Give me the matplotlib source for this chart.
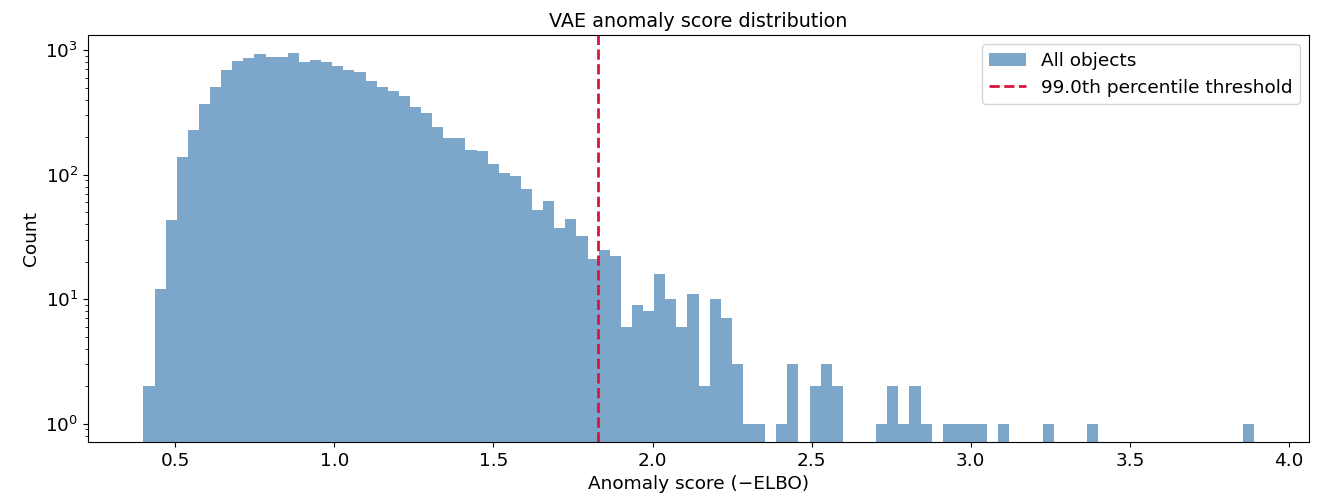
import numpy as np
import matplotlib
matplotlib.use("Agg")
import matplotlib.pyplot as plt

# histogram of VAE anomaly scores (-ELBO), 100 equal-width bins
score_min = 0.400
score_max = 3.889
threshold = 1.827  # 99.0th percentile

counts = [
    2, 12, 43, 138, 229, 372, 510, 687, 811, 864,
    924, 880, 880, 941, 802, 837, 802, 745, 692, 666,
    564, 505, 474, 432, 348, 312, 240, 196, 196, 159,
    155, 122, 103, 98, 76, 52, 61, 37, 44, 32,
    21, 25, 22, 6, 9, 8, 16, 10, 6, 11,
    2, 10, 7, 3, 1, 1, 0, 1, 3, 0,
    2, 3, 2, 0, 0, 0, 1, 2, 1, 2,
    1, 0, 1, 1, 1, 1, 0, 1, 0, 0,
    0, 1, 0, 0, 0, 1, 0, 0, 0, 0,
    0, 0, 0, 0, 0, 0, 0, 0, 0, 1,
]

edges = np.linspace(score_min, score_max, len(counts) + 1)
centers = 0.5 * (edges[:-1] + edges[1:])

fig, ax = plt.subplots(figsize=(13.21, 4.99), dpi=100)
fig.subplots_adjust(left=0.0666, right=0.991, top=0.93, bottom=0.114)

ax.hist(centers, bins=edges, weights=counts, color="steelblue", alpha=0.7,
        log=True, label="All objects")
ax.axvline(threshold, color="crimson", linestyle="--", linewidth=2,
           label="99.0th percentile threshold")

ax.set_xlabel("Anomaly score (\u2212ELBO)", fontsize=13.3)
ax.set_ylabel("Count", fontsize=13.3)
ax.set_title("VAE anomaly score distribution", fontsize=13.8)
ax.tick_params(labelsize=13.3)
ax.legend(fontsize=13.3)

fig.savefig("out.png", dpi=100)
